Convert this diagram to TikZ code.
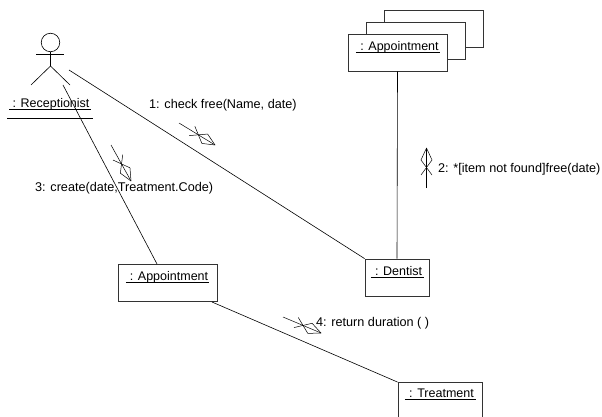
\documentclass[tikz,border=0pt]{standalone}
\usepackage{fontspec}
\setmainfont{Liberation Sans}
\usetikzlibrary{calc}
\tikzset{
	objbox/.style={draw=black!80, fill=white, line width=0.8pt, inner sep=0pt, minimum width=#1, minimum height=37pt},
	objname/.style={inner xsep=0pt, inner ysep=0pt, text depth=1.2pt, minimum width=#1, anchor=south, font=\fontsize{12.5}{14}\selectfont},
	msgtext/.style={inner sep=0pt, anchor=west, font=\fontsize{12.65}{14}\selectfont},
	nameline/.style={line width=0.9pt},
	assoc/.style={line width=0.6pt},
	msgline/.style={line width=0.5pt}
}
\newcommand{\msgarrow}[2]{
	\draw[msgline] (#1) -- (#2);
	\draw[msgline] (#2) -- ($(#2)!12pt!(#1)!5.5pt!90:(#1)$) -- ($(#2)!27pt!(#1)!5.5pt!-90:(#1)$);
	\draw[msgline] (#2) -- ($(#2)!12pt!(#1)!5.5pt!-90:(#1)$) -- ($(#2)!27pt!(#1)!5.5pt!90:(#1)$);
}

\begin{document}
\begin{tikzpicture}[x=1pt, y=-1pt]
	\useasboundingbox (0, 0) rectangle (602, 417);
	
	%%%%% actor %%%%%
	\node[draw, circle, line width=0.6pt, inner sep=0pt, minimum size=18.5pt] (head) at (50.5, 42.5) {};
	\coordinate (neck) at (50.5, 66);
	\coordinate (armL) at (36, 54);
	\coordinate (armR) at (64, 54);
	\coordinate (footL) at (31, 85);
	\coordinate (footR) at (70, 85);
	\draw[assoc] (head.south) -- (neck);
	\draw[assoc] (armL) -- (armR);
	\draw[assoc] (footL) -- (neck) -- (footR);
	\node[objname=82pt] (recName) at (51, 109) {: Receptionist};
	\coordinate (recUL) at (9, 109);
	\coordinate (recUR) at (91, 109);
	\draw[line width=0.6pt] (recUL) -- (recUR);
	\coordinate (recL) at (7, 118);
	\coordinate (recR) at (93, 118);
	\draw[line width=0.6pt] (recL) -- (recR);
	
	%%%%% objects %%%%%
	\node[objbox=99pt] (apptBack) at (433.5, 29) {};
	\node[objbox=99pt] (apptMid) at (415.5, 41) {};
	\node[objbox=99pt] (apptFront) at (397.5, 52.5) {};
	\node[objname=84pt] (apptFrontName) at (399.5, 52) {: Appointment};
	\draw[nameline] ([xshift=-1.5pt]apptFrontName.south west) -- ([xshift=-1.5pt]apptFrontName.south east);
	
	\node[objbox=64pt] (dentist) at (397, 277.5) {};
	\node[objname=53pt] (dentistName) at (398.5, 277) {: Dentist};
	\draw[nameline] ([xshift=-1pt]dentistName.south west) -- ([xshift=-1pt]dentistName.south east);
	
	\node[objbox=99pt] (appt) at (167.5, 282.5) {};
	\node[objname=83pt] (apptName) at (169, 282) {: Appointment};
	\draw[nameline] ([xshift=-1.5pt]apptName.south west) -- ([xshift=-1.5pt]apptName.south east);
	
	\node[objbox=84pt] (treatment) at (440, 401) {};
	\node[objname=71pt] (treatmentName) at (441.5, 399) {: Treatment};
	\draw[nameline] ([xshift=-1pt]treatmentName.south west) -- ([xshift=-1pt]treatmentName.south east);
	
	%%%%% links %%%%%
	\coordinate (recHand) at (69, 70);
	\coordinate (recLeg) at (63, 85);
	\coordinate (apptTop) at (157, 264);
	\coordinate (apptCorner) at (212, 302);
	\draw[assoc] (recHand) -- (dentist.north west);
	\draw[assoc] (recLeg) -- (apptTop);
	\draw[assoc] (apptFront.south) -- (dentist.north);
	\draw[assoc] (apptCorner) -- (treatment.north west);
	
	%%%%% messages %%%%%
	\coordinate (msgA) at (179, 123);
	\coordinate (msgAtip) at (215, 145);
	\coordinate (msgB) at (426.5, 188);
	\coordinate (msgBtip) at (426.5, 148);
	\coordinate (msgC) at (111, 145);
	\coordinate (msgCtip) at (131, 181);
	\coordinate (msgD) at (283, 317);
	\coordinate (msgDtip) at (321, 333);
	\msgarrow{msgA}{msgAtip}
	\msgarrow{msgB}{msgBtip}
	\msgarrow{msgC}{msgCtip}
	\msgarrow{msgD}{msgDtip}
	
	\node[msgtext] (labelA) at (149, 105) {1: check free(Name, date)};
	\node[msgtext] (labelB) at (438, 169) {2: *[item not found]free(date)};
	\node[msgtext] (labelC) at (35, 188) {3: create(date,Treatment.Code)};
	\node[msgtext] (labelD) at (316, 323) {4: return duration ( )};
\end{tikzpicture}
\end{document}
